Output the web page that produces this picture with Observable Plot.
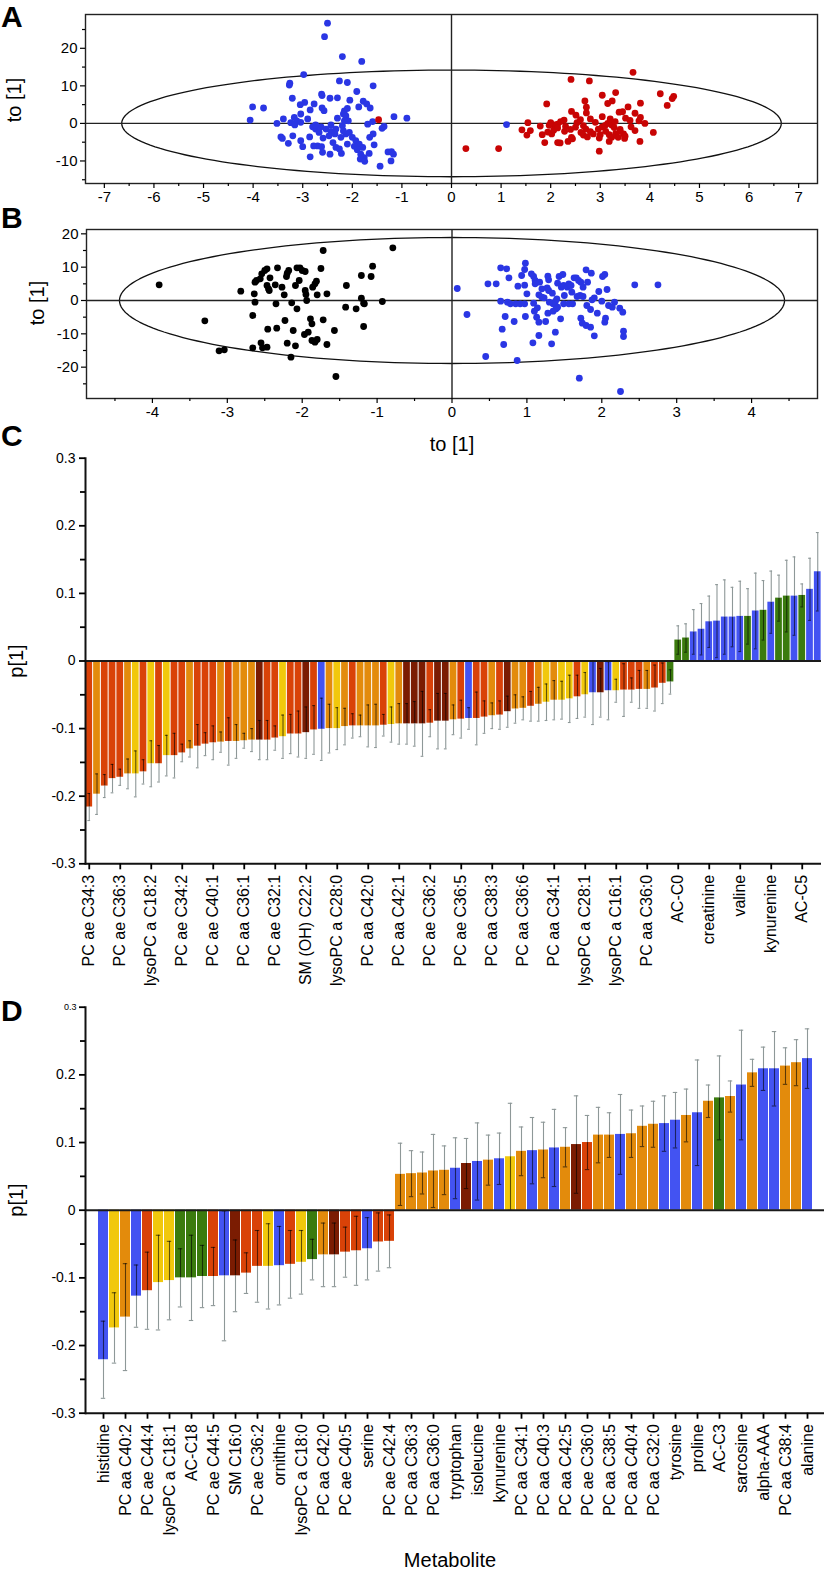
<!DOCTYPE html>
<html><head><meta charset="utf-8">
<script src="https://cdn.jsdelivr.net/npm/d3@7"></script>
<script src="https://cdn.jsdelivr.net/npm/@observablehq/plot@0.6"></script>
<style>
body{margin:0;background:#fff;font-family:"Liberation Sans",Arial,sans-serif;color:#000;}
#root{position:relative;width:825px;height:1576px;overflow:hidden;background:#fff;}
.abs{position:absolute;}
.letter{font-weight:bold;font-size:30px;line-height:1;}
.title{font-size:20px;line-height:1;white-space:nowrap;}
.rot{transform:translate(-50%,-50%) rotate(-90deg);}
.ctr{transform:translate(-50%,-50%);}
</style></head><body><div id="root"></div>
<script>
// ---------- Panel A: scores ----------
const aBlue = [[-2.5,26.7],[-2.56,23.1],[-2.2,17.8],[-1.81,16.5],[-2.98,13.0],[-3.26,10.7],[-3.27,10.2],[-1.58,10.0],[-2.26,11.3],[-2.1,10.9],[-1.91,8.5],[-2.62,7.8],[-2.61,7.4],[-3.21,6.7],[-2.45,6.7],[-2.3,6.8],[-2.05,6.2],[-1.78,5.9],[-1.71,5.2],[-2.77,5.2],[-2.96,5.6],[-3.05,5.0],[-1.87,4.4],[-4.01,4.4],[-3.79,4.1],[-2.61,4.1],[-2.57,3.4],[-2.1,4.0],[-2.16,3.3],[-2.18,2.5],[-2.13,2.0],[-2.85,3.6],[-3.04,2.5],[-1.16,1.8],[-0.9,1.4],[-4.06,0.9],[-3.39,1.2],[-3.17,1.6],[-3.12,0.7],[-3.24,0.2],[-3.16,-0.4],[-3.04,0.3],[-2.9,1.2],[-2.3,1.4],[-2.08,0.7],[-1.59,0.5],[-3.52,0],[-1.69,-0.2],[-1.4,-1.3],[-2.8,-0.9],[-2.74,-1.5],[-2.63,-0.9],[-2.53,-1.5],[-2.43,-2.1],[-2.33,-1.5],[-2.47,-3.3],[-2.35,-2.8],[-2.23,-3.7],[-2.13,-2.8],[-2.06,-2.4],[-2.0,-3.7],[-1.93,-4.6],[-1.86,-5.5],[-1.79,-6.4],[-1.96,-6.1],[-1.9,-7.0],[-1.83,-8.2],[-1.76,-9.1],[-1.84,-9.5],[-1.75,-10.1],[-1.66,-8.0],[-1.65,-3.7],[-1.56,-5.7],[-1.44,-11.4],[-1.28,-7.6],[-1.21,-7.5],[-1.17,-8.2],[-1.22,-10.0],[-2.22,-8.0],[-2.45,-8.2],[-2.6,-7.7],[-2.85,-8.9],[-2.7,-6.0],[-2.78,-6.0],[-2.62,-6.2],[-3.0,-6.2],[-3.04,-4.6],[-2.86,-3.6],[-3.44,-3.6],[-3.41,-4.0],[-3.29,-5.3],[-3.2,-3.3],[-2.39,-5.1],[-2.33,-6.4],[-2.1,-5.5],[-2.26,-6.8],[-2.18,-2.0],[-2.43,-0.4],[-2.74,-0.4],[-2.67,-2.4],[-2.59,-3.9],[-2.2,-0.6],[-2.16,0.7],[-1.58,-2.8],[-1.36,-0.8],[-1.64,4.1],[1.11,-0.3]];
const aRed = [[3.66,13.6],[2.41,11.7],[2.78,11.3],[3.31,8.2],[3.04,7.5],[4.21,7.9],[4.48,7.2],[4.45,6.6],[4.35,4.8],[2.69,6.0],[3.24,6.0],[3.15,5.3],[1.92,5.2],[2.72,4.3],[3.56,4.4],[3.81,5.4],[2.42,3.2],[2.51,2.2],[2.72,2.8],[3.38,3.0],[3.45,3.1],[3.7,2.7],[3.04,1.8],[2.8,1.2],[3.51,1.4],[3.81,1.6],[3.78,0.7],[2.27,0.9],[2.2,0.5],[2.14,-0.2],[2.07,-0.4],[1.97,-0.5],[1.54,0.2],[1.79,-0.7],[2.53,0.2],[2.66,-0.6],[2.71,-1.5],[3.15,0],[3.23,-0.4],[3.28,-1.1],[3.62,-0.9],[3.9,0],[2.96,-1.5],[3.04,-0.9],[1.42,-1.7],[1.59,-1.9],[1.52,-3.1],[1.83,-3.0],[1.94,-2.3],[2.02,-2.8],[2.06,-1.8],[2.14,-1.2],[2.28,-2.1],[2.61,-2.4],[2.66,-3.1],[2.74,-3.6],[2.86,-2.8],[3.11,-2.1],[3.18,-3.0],[3.23,-3.7],[3.31,-2.7],[3.36,-3.7],[3.4,-2.1],[3.47,-2.8],[3.49,-4.0],[4.07,-2.4],[2.98,-3.9],[2.42,-3.7],[2.35,-4.8],[2.44,-4.1],[2.14,-5.1],[2.19,-5.2],[1.88,-5.1],[3.8,-4.8],[3.18,-4.8],[2.98,-7.4],[0.29,-6.7],[0.95,-6.7],[2.3,-0.8],[2.5,-1.0],[2.9,0.3],[3.1,-0.5],[3.3,0.5],[3.4,-1.6],[3.6,0.8],[2.0,0.2],[2.6,1.0],[3.0,-3.0],[3.7,-1.9],[3.2,1.2],[2.8,-2.2],[3.5,-3.4],[2.4,-1.6],[-1.47,1.0]];
const ellipseA = {a: 6.65, b: 14.2};
const aXTicks = d3.range(-7, 8);
const aYTicks = [-10, 0, 10, 20];

// ---------- Panel B: scores ----------
const bBlack = [[-3.91,4.7],[-3.3,-6.1],[-3.11,-15.1],[-3.04,-14.8],[-2.82,2.8],[-2.64,2.0],[-2.63,5.5],[-2.61,6.0],[-2.63,-0.5],[-2.66,-4.5],[-2.66,-14.2],[-2.55,-12.7],[-2.53,-14.2],[-2.54,8.0],[-2.5,9.0],[-2.47,9.5],[-2.56,6.5],[-2.43,6.8],[-2.47,4.5],[-2.45,3.5],[-2.44,3.0],[-2.36,4.7],[-2.33,9.8],[-2.46,-8.6],[-2.34,-8.3],[-2.35,-1.0],[-2.24,1.7],[-2.23,-6.0],[-2.2,8.2],[-2.18,9.0],[-2.21,7.2],[-2.15,-17],[-2.14,-0.7],[-2.09,4.5],[-2.07,-2.5],[-2.09,-13.6],[-2.07,9.8],[-2.03,9.8],[-2.0,9.0],[-1.96,8.7],[-2.04,6.0],[-1.96,3.0],[-1.95,1.8],[-1.97,-10.2],[-1.92,-9.5],[-1.87,-12.0],[-1.83,-12.5],[-1.8,-11.7],[-1.89,-5.5],[-1.87,-7.0],[-1.86,4.0],[-1.83,5.0],[-1.81,5.8],[-1.8,1.7],[-1.75,9.6],[-1.72,15.0],[-1.72,-5.8],[-1.67,2.0],[-1.67,-13.2],[-1.57,-9.0],[-1.55,-22.8],[-1.41,4.5],[-1.42,-2.0],[-1.28,-2.5],[-1.21,7.5],[-1.08,7.2],[-1.06,10.3],[-1.21,0.7],[-1.18,-0.8],[-1.17,-1.0],[-1.18,-7.8],[-0.93,-0.3],[-0.79,15.8],[-2.2,-12.8],[-2.47,-14.0],[-2.27,4.0],[-2.12,-9.0],[-1.94,0]];
const bBlue = [[0.07,3.6],[0.2,-4.2],[0.45,-16.8],[0.48,5.0],[0.59,5.0],[0.65,9.8],[0.73,9.5],[0.76,6.8],[0.65,-0.2],[0.74,-0.5],[0.78,-1.0],[0.85,-1.0],[0.91,-1.0],[0.97,-1.0],[0.71,-4.8],[0.67,-8.6],[0.69,-13.2],[0.83,-6.3],[0.88,4.3],[0.87,-18],[0.93,7.5],[0.97,4.6],[0.98,11.2],[0.97,9.3],[0.98,-4.8],[1.06,8.0],[1.09,7.2],[1.11,6.0],[1.11,5.0],[1.17,5.5],[1.09,-0.8],[1.14,-2.2],[1.13,-5.0],[1.16,-6.5],[1.16,1.7],[1.2,1.0],[1.23,0.8],[1.16,-10.5],[1.08,-12.7],[1.25,-6.3],[1.27,3.8],[1.29,3.0],[1.34,2.2],[1.29,6.2],[1.28,7.3],[1.43,7.2],[1.48,7.8],[1.33,-13],[1.35,-1.0],[1.38,-0.3],[1.41,-2.0],[1.28,-3.8],[1.35,-3.2],[1.39,-2.5],[1.38,-9.5],[1.45,-5.5],[1.41,5.2],[1.46,4.0],[1.49,4.5],[1.54,4.0],[1.56,5.0],[1.59,4.5],[1.63,6.8],[1.66,6.8],[1.69,6.0],[1.72,5.5],[1.75,4.0],[1.81,5.5],[1.49,-1.0],[1.56,-1.0],[1.61,-1.0],[1.67,1.2],[1.71,1.5],[1.75,1.2],[1.72,-5.3],[1.74,-6.8],[1.7,-23.3],[1.79,9.2],[1.86,8.2],[1.79,-7.5],[1.85,-8.0],[1.87,0.2],[1.85,-2.7],[1.9,-10.6],[1.94,-3.8],[1.96,2.7],[2.01,7.2],[2.04,7.8],[2.07,3.3],[2.05,-5.3],[2.04,-6.5],[2.09,-1.5],[2.14,-2.0],[2.17,-0.5],[2.24,-2.3],[2.28,-3.5],[2.29,-9.2],[2.29,-10.8],[2.25,-27.3],[2.44,4.7],[2.75,4.7],[1.2,3.5],[1.3,-0.5],[1.5,1.5],[1.6,2.5],[1.0,2.0],[1.8,-1.5],[1.9,0.8],[2.0,-0.2],[1.4,0.5],[1.1,-3.2]];
const ellipseB = {a: 4.44, b: 18.9};
const bXTicks = d3.range(-4, 5);
const bYTicks = [-20, -10, 0, 10, 20];

// ---------- Metabolite groups ----------
const groupNames = {R: "PC ae", O: "PC aa", Y: "lysoPC", K: "SM", B: "amino acids / biogenic amines", G: "acylcarnitines"};
const groupColors = ["#d94208", "#e38b0c", "#f1c80c", "#7b1c02", "#4353f2", "#3b7b0e"];

// ---------- Panel C: loadings ----------
const cLabels = ["PC ae C34:3","PC ae C36:3","lysoPC a C18:2","PC ae C34:2","PC ae C40:1","PC aa C36:1","PC ae C32:1","SM (OH) C22:2","lysoPC a C28:0","PC aa C42:0","PC aa C42:1","PC ae C36:2","PC ae C36:5","PC aa C38:3","PC aa C36:6","PC aa C34:1","lysoPC a C28:1","lysoPC a C16:1","PC aa C36:0","AC-C0","creatinine","valine","kynurenine","AC-C5"];
const cValues = [-0.216,-0.197,-0.185,-0.174,-0.172,-0.167,-0.167,-0.164,-0.152,-0.152,-0.140,-0.140,-0.136,-0.130,-0.126,-0.123,-0.121,-0.120,-0.119,-0.119,-0.118,-0.117,-0.117,-0.117,-0.114,-0.112,-0.108,-0.108,-0.106,-0.102,-0.101,-0.100,-0.100,-0.097,-0.096,-0.096,-0.096,-0.096,-0.095,-0.094,-0.093,-0.093,-0.093,-0.093,-0.092,-0.089,-0.089,-0.087,-0.086,-0.085,-0.085,-0.083,-0.081,-0.080,-0.075,-0.071,-0.070,-0.067,-0.064,-0.061,-0.058,-0.058,-0.056,-0.053,-0.050,-0.047,-0.047,-0.044,-0.044,-0.043,-0.043,-0.042,-0.042,-0.040,-0.033,-0.031,0.031,0.034,0.043,0.047,0.058,0.059,0.065,0.065,0.066,0.066,0.074,0.075,0.087,0.093,0.096,0.096,0.097,0.106,0.132];
const cErrors = [0.020,0.030,0.017,0.021,0.012,0.022,0.034,0.018,0.034,0.027,0.030,0.033,0.013,0.012,0.032,0.017,0.025,0.015,0.035,0.025,0.011,0.017,0.029,0.029,0.018,0.032,0.029,0.034,0.038,0.036,0.046,0.036,0.031,0.027,0.018,0.016,0.031,0.032,0.016,0.026,0.030,0.030,0.033,0.048,0.020,0.041,0.041,0.022,0.028,0.016,0.039,0.024,0.019,0.021,0.023,0.021,0.017,0.022,0.025,0.027,0.029,0.028,0.035,0.032,0.033,0.047,0.036,0.043,0.017,0.039,0.018,0.028,0.028,0.034,0.030,0.018,0.021,0.021,0.033,0.038,0.038,0.054,0.055,0.044,0.052,0.041,0.056,0.044,0.046,0.034,0.053,0.058,0.017,0.046,0.058];
const cGroups = "RORRROYRYR" + "YRRORRRORO" + "OOKRRYRRKR" + "BOYOROOORY" + "OKKKRKKORB" + "RRORKOOROY" + "OYYRYBKBYR" + "RRORRGGGBB" + "BBBBBGBGBG" + "GBGBB";
const cLabelEvery = 4;

// ---------- Panel D: loadings ----------
const dLabels = ["histidine","PC aa C40:2","PC ae C44:4","lysoPC a C18:1","AC-C18","PC ae C44:5","SM C16:0","PC ae C36:2","ornithine","lysoPC a C18:0","PC aa C42:0","PC ae C40:5","serine","PC ae C42:4","PC aa C36:3","PC aa C36:0","tryptophan","isoleucine","kynurenine","PC aa C34:1","PC aa C40:3","PC aa C42:5","PC ae C36:0","PC aa C38:5","PC aa C40:4","PC aa C32:0","tyrosine","proline","AC-C3","sarcosine","alpha-AAA","PC aa C38:4","alanine"];
const dValues = [-0.221,-0.174,-0.158,-0.127,-0.119,-0.107,-0.104,-0.100,-0.100,-0.098,-0.098,-0.097,-0.097,-0.093,-0.083,-0.083,-0.082,-0.080,-0.077,-0.073,-0.066,-0.066,-0.062,-0.060,-0.057,-0.047,-0.046,0.053,0.054,0.055,0.058,0.059,0.062,0.069,0.072,0.074,0.076,0.079,0.087,0.088,0.089,0.092,0.093,0.097,0.100,0.111,0.111,0.112,0.113,0.124,0.127,0.128,0.133,0.140,0.144,0.161,0.166,0.168,0.185,0.203,0.209,0.209,0.213,0.218,0.224];
const dErrors = [0.057,0.052,0.079,0.046,0.057,0.070,0.058,0.043,0.063,0.046,0.043,0.096,0.053,0.030,0.053,0.063,0.058,0.050,0.047,0.030,0.047,0.047,0.037,0.051,0.046,0.043,0.039,0.046,0.034,0.031,0.054,0.036,0.045,0.037,0.057,0.037,0.038,0.079,0.036,0.049,0.041,0.057,0.029,0.072,0.040,0.041,0.033,0.059,0.035,0.030,0.034,0.041,0.041,0.039,0.078,0.024,0.062,0.023,0.081,0.020,0.032,0.055,0.027,0.034,0.044];
const dGroups = "BYOBRYYGGG" + "RBKRRYBRYG" + "OKRRBRROOO" + "OOBKBOBYOB" + "OBOKROOBOO" + "OBBOBOGOBO" + "BBOOB";
const dLabelEvery = 2;

const pTicks = [0.3, 0.2, 0.1, 0, -0.1, -0.2, -0.3];
const pMinor = [0.25, 0.15, 0.05, -0.05, -0.15, -0.25];

// ---------- helpers ----------
const root = document.getElementById("root");
const FONT = "Liberation Sans, Arial, sans-serif";
function place(el, top, left) { el.style.position = "absolute"; el.style.top = top + "px"; el.style.left = (left || 0) + "px"; root.appendChild(el); }
function addText(txt, cls, x, y) { const d = document.createElement("div"); d.className = "abs " + cls; d.textContent = txt; d.style.left = x + "px"; d.style.top = y + "px"; root.appendChild(d); }
const ellipsePoints = ({a, b}) => d3.range(0, 361, 2).map(t => ({x: a * Math.cos(t * Math.PI / 180), y: b * Math.sin(t * Math.PI / 180)}));
const fmt = d => String(+(+d).toFixed(2));

function scoresPlot({black, blue, red, ellipse, xDomain, yDomain, xTicks, yTicks, marginLeft}) {
  const xMinor = d3.range(Math.ceil(xDomain[0] * 2) / 2, xDomain[1], 0.5).filter(v => !Number.isInteger(v));
  const yMinor = d3.range(Math.ceil(yDomain[0] / 5) * 5, yDomain[1], 5).filter(v => v % 10 !== 0);
  const marks = [
    Plot.line(ellipsePoints(ellipse), {x: "x", y: "y", stroke: "#111", strokeWidth: 1.3}),
    Plot.ruleX([0], {stroke: "#222", strokeWidth: 1.4}),
    Plot.ruleY([0], {stroke: "#222", strokeWidth: 1.4})
  ];
  if (black) marks.push(Plot.dot(black, {x: d => d[0], y: d => d[1], r: 3.4, fill: "#000"}));
  if (blue) marks.push(Plot.dot(blue, {x: d => d[0], y: d => d[1], r: 3.4, fill: "#2a36e4"}));
  if (red) marks.push(Plot.dot(red, {x: d => d[0], y: d => d[1], r: 3.4, fill: "#c80404"}));
  marks.push(
    Plot.frame({stroke: "#222", strokeWidth: 1.4}),
    Plot.axisX({ticks: xTicks, tickSize: 5, tickPadding: 3, tickFormat: fmt, label: null, strokeWidth: 1.2}),
    Plot.axisX({ticks: xMinor, tickSize: 3, tickFormat: () => "", label: null, strokeWidth: 1.2}),
    Plot.axisY({ticks: yTicks, tickSize: 5, tickPadding: 3, tickFormat: fmt, label: null, strokeWidth: 1.2}),
    Plot.axisY({ticks: yMinor, tickSize: 3, tickFormat: () => "", label: null, strokeWidth: 1.2})
  );
  return Plot.plot({
    width: 825, height: 215, marginTop: 14, marginBottom: 32, marginLeft, marginRight: 8,
    x: {domain: xDomain}, y: {domain: yDomain},
    style: {fontFamily: FONT, fontSize: "15px", color: "#000", background: "transparent"},
    marks
  });
}

function loadingsPlot({values, errors, groups, labels, every, height, marginTop, marginBottom, marginRight, paddingInner, paddingOuter, cap, smallTop}) {
  const data = values.map((v, i) => ({i, v, e: errors[i], s: Math.sign(v), g: groupNames[groups[i]]}));
  const tickVals = d3.range(0, values.length, every);
  return Plot.plot({
    width: 825, height, marginTop, marginBottom, marginLeft: 85, marginRight,
    x: {type: "band", domain: d3.range(values.length), paddingInner, paddingOuter},
    y: {domain: [-0.3, 0.3]},
    color: {domain: Object.values(groupNames), range: groupColors},
    style: {fontFamily: FONT, fontSize: "14px", color: "#000", background: "transparent"},
    marks: [
      Plot.barY(data, {x: "i", y: "v", fill: "g"}),
      Plot.ruleX(data, {x: "i", y1: "v", y2: d => d.v + d.s * d.e, stroke: "#8e9898", strokeWidth: 1.1}),
      Plot.tickY(data, {x: "i", y: d => d.v + d.s * d.e, stroke: "#8e9898", strokeWidth: 1.1, insetLeft: cap, insetRight: cap}),
      Plot.ruleX(data, {x: "i", y1: "v", y2: d => d.v - d.s * d.e, stroke: "#000", strokeOpacity: 0.6, strokeWidth: 1.1}),
      Plot.tickY(data, {x: "i", y: d => d.v - d.s * d.e, stroke: "#000", strokeOpacity: 0.6, strokeWidth: 1.1, insetLeft: cap, insetRight: cap}),
      Plot.ruleY([0], {stroke: "#1a1a1a", strokeWidth: 2}),
      Plot.ruleY([-0.3], {stroke: "#111", strokeWidth: 2}),
      Plot.frame({anchor: "left", stroke: "#111", strokeWidth: 2}),
      Plot.axisY({ticks: pTicks, tickSize: 6, tickPadding: 4, strokeWidth: 1.8, label: null,
        tickFormat: d => (smallTop && d === 0.3) ? "" : fmt(d)}),
      Plot.axisY({ticks: pMinor, tickSize: 5, strokeWidth: 1.8, label: null, tickFormat: () => ""}),
      ...(smallTop ? [Plot.text([0.3], {y: d => d, frameAnchor: "left", text: () => "0.3", textAnchor: "end", dx: -9, fontSize: 9})] : []),
      Plot.axisX({ticks: tickVals, tickSize: 6, tickPadding: 5, tickRotate: -90, strokeWidth: 1.8, label: null, fontSize: 16,
        tickFormat: i => labels[i / every]})
    ]
  });
}

// ---------- build ----------
const A = scoresPlot({blue: aBlue, red: aRed, ellipse: ellipseA, xDomain: [-7.38, 7.38], yDomain: [-16, 29], xTicks: aXTicks, yTicks: aYTicks, marginLeft: 85});
place(A, 0);
const B = scoresPlot({black: bBlack, blue: bBlue, ellipse: ellipseB, xDomain: [-4.88, 4.88], yDomain: [-29.4, 21.3], xTicks: bXTicks, yTicks: bYTicks, marginLeft: 86});
place(B, 215);
const C = loadingsPlot({values: cValues, errors: cErrors, groups: cGroups, labels: cLabels, every: cLabelEvery,
  height: 570, marginTop: 27.7, marginBottom: 136.7, marginRight: 4, paddingInner: 0.13, paddingOuter: 0.05, cap: 2, smallTop: false});
place(C, 430);
const D = loadingsPlot({values: dValues, errors: dErrors, groups: dGroups, labels: dLabels, every: dLabelEvery,
  height: 576, marginTop: 6.7, marginBottom: 163.3, marginRight: 1, paddingInner: 0.12, paddingOuter: 0.25, cap: 2.8, smallTop: true});
place(D, 1000);

addText("A", "letter", 1, 2);
addText("B", "letter", 1, 203);
addText("C", "letter", 1, 421);
addText("D", "letter", 1, 996);
addText("to [1]", "title rot", 14, 100);
addText("to [1]", "title rot", 37, 303);
addText("to [1]", "title ctr", 452, 444);
addText("p[1]", "title rot", 16, 661);
addText("p[1]", "title rot", 16, 1200);
addText("Metabolite", "title ctr", 450, 1560);
</script></body></html>
